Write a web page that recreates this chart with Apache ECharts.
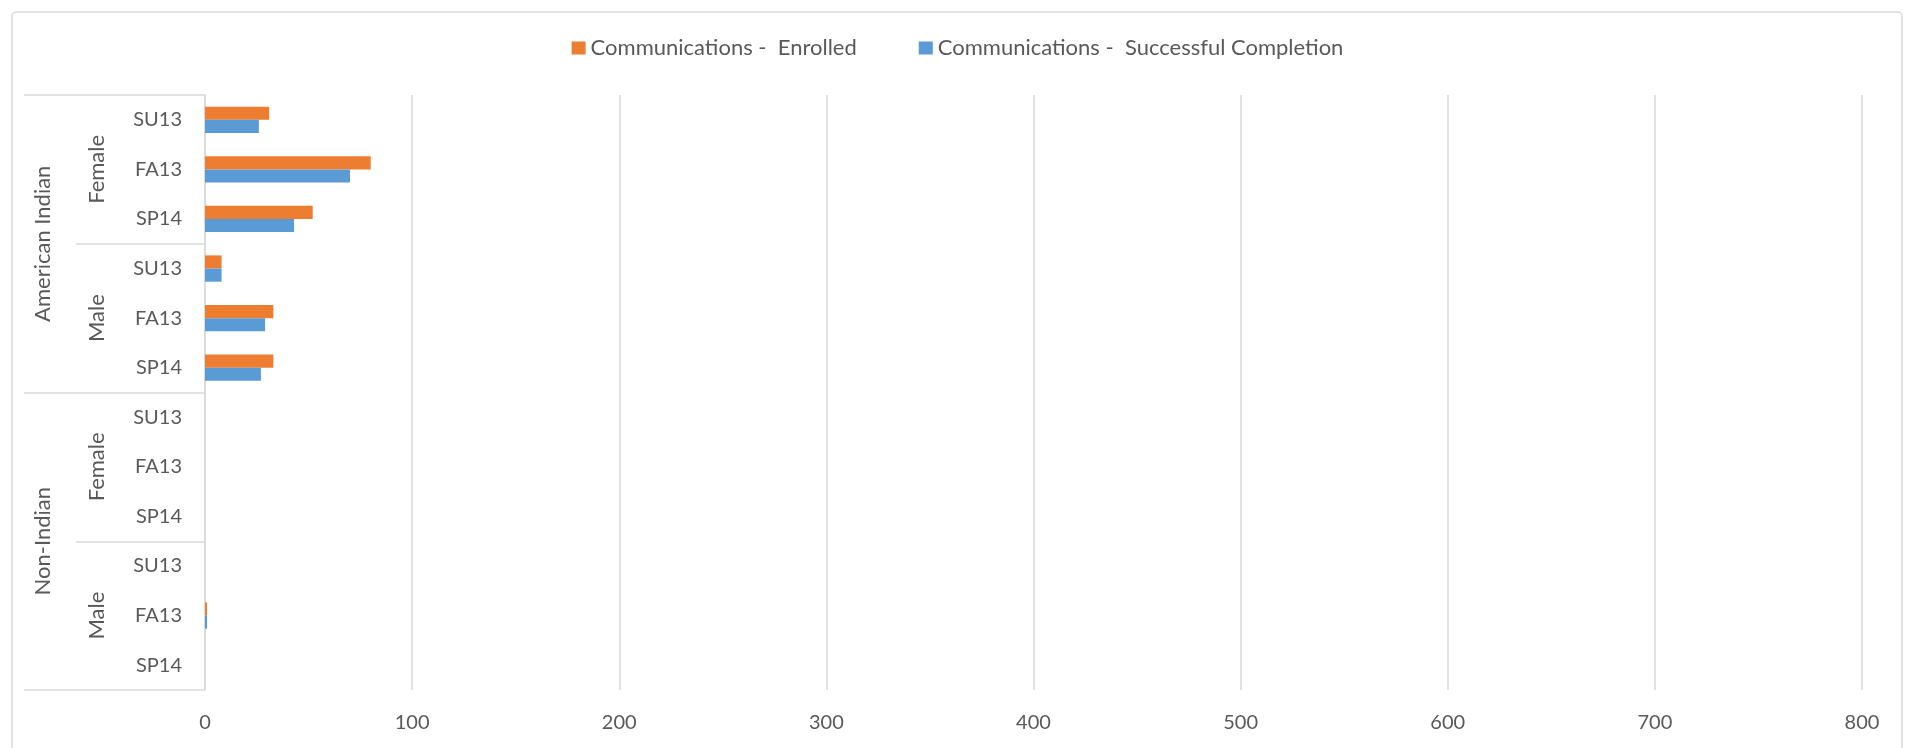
<!DOCTYPE html>
<html>
<head>
<meta charset="utf-8">
<script src="https://cdn.jsdelivr.net/npm/echarts@6/dist/echarts.min.js"></script>
<style>
html,body{margin:0;padding:0;background:#fff;}
#chart{width:1915px;height:748px;}
</style>
</head>
<body>
<div id="chart"></div>
<script>
// Category levels (top to bottom)
const terms = ["SU13","FA13","SP14","SU13","FA13","SP14","SU13","FA13","SP14","SU13","FA13","SP14"];
const genders = ["Female","Male","Female","Male"];
const groups = ["American Indian","Non-Indian"];
// Series values
const seriesNames = ["Communications -  Enrolled", "Communications -  Successful Completion"];
const enrolled =   [31, 80, 52, 8, 33, 33, 0, 0, 0, 0, 1, 0];
const completion = [26, 70, 43, 8, 29, 27, 0, 0, 0, 0, 1, 0];
// X axis
const xMin = 0, xMax = 800, xStep = 100;

const textColor = '#595959';
const lineColor = '#D9D9D9';
const fontFamily = 'Lato, "Noto Sans", sans-serif';

const chart = echarts.init(document.getElementById('chart'));
chart.setOption({
  animation: false,
  textStyle: { fontFamily: fontFamily },
  graphic: [{
    type: 'rect',
    shape: { x: 12, y: 12, width: 1890, height: 800, r: 4 },
    style: { fill: 'none', stroke: lineColor, lineWidth: 1.5 },
    silent: true
  }],
  legend: {
    top: 32,
    left: 'center',
    icon: 'rect',
    itemWidth: 14,
    itemHeight: 13,
    itemGap: 62,
    textStyle: { color: textColor, fontSize: 22, fontFamily: fontFamily }
  },
  grid: { left: 205, right: 53, top: 95, bottom: 58, containLabel: false },
  xAxis: {
    type: 'value',
    min: xMin, max: xMax, interval: xStep,
    axisLine: { show: false },
    axisTick: { show: false },
    splitLine: { show: true, lineStyle: { color: lineColor, width: 1.5 } },
    axisLabel: { color: textColor, fontSize: 20, margin: 23, fontFamily: fontFamily }
  },
  yAxis: [
    {
      type: 'category', inverse: true, position: 'left', offset: 0,
      data: terms,
      axisLine: { show: true, lineStyle: { color: lineColor, width: 1.5 } },
      axisTick: { show: false },
      axisLabel: { color: textColor, fontSize: 20, margin: 23, fontFamily: fontFamily }
    },
    {
      type: 'category', inverse: true, position: 'left', offset: 0,
      data: genders,
      axisLine: { show: false },
      axisTick: { show: true, length: 129, lineStyle: { color: lineColor, width: 1.5 } },
      axisLabel: { color: textColor, fontSize: 22, rotate: 90, margin: 97, fontFamily: fontFamily }
    },
    {
      type: 'category', inverse: true, position: 'left', offset: 0,
      data: groups,
      axisLine: { show: false },
      axisTick: { show: true, length: 181, lineStyle: { color: lineColor, width: 1.5 } },
      axisLabel: { color: textColor, fontSize: 22, rotate: 90, margin: 151, fontFamily: fontFamily }
    }
  ],
  series: [
    {
      name: seriesNames[0], type: 'bar', yAxisIndex: 0,
      data: enrolled,
      itemStyle: { color: '#ED7D31' },
      barGap: '0%', barCategoryGap: '47%'
    },
    {
      name: seriesNames[1], type: 'bar', yAxisIndex: 0,
      data: completion,
      itemStyle: { color: '#5B9BD5' },
      barGap: '0%', barCategoryGap: '47%'
    }
  ]
});
</script>
</body>
</html>
